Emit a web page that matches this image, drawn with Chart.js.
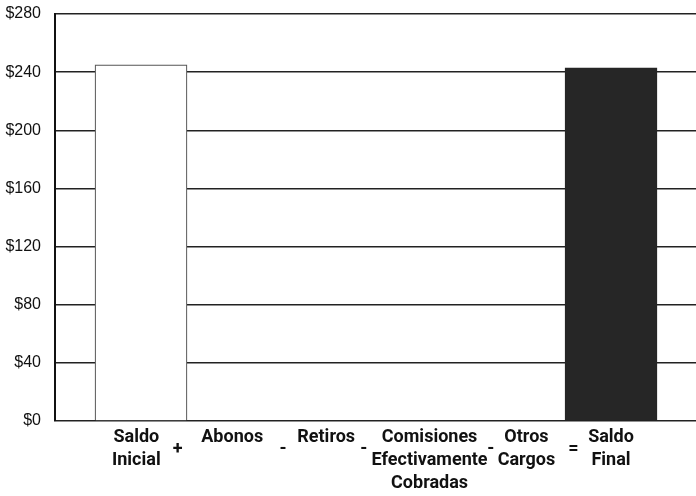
<!DOCTYPE html>
<html>
<head>
<meta charset="utf-8">
<script src="https://cdn.jsdelivr.net/npm/chart.js@4.4.0/dist/chart.umd.min.js"></script>
<style>
    html, body { margin: 0; padding: 0; background: #fff; overflow: hidden; }
    #wrap { width: 696px; height: 496px; position: relative; }
</style>
</head>
<body>
<div id="wrap"><canvas id="saldoChart"></canvas></div>
<script>
// 막대 데이터
const barX = [1, 6];
const barValues = [245, 243];

// x축 라벨 (항목과 연산자)
const xLabels = [
    ['Saldo', 'Inicial'], '+', 'Abonos', '-', 'Retiros', '-',
    ['Comisiones', 'Efectivamente', 'Cobradas'], '-', ['Otros', 'Cargos'], '=', ['Saldo', 'Final']
];
const xLabelAt = [0.95, 1.39, 1.97, 2.51, 2.97, 3.37, 4.07, 4.72, 5.1, 5.6, 6.0];
const isOperator = xLabels.map(l => typeof l === 'string' && l.length === 1);

// y축 눈금
const yTicks = [0, 40, 80, 120, 160, 200, 240, 280];

const labelFont = "Roboto, 'DejaVu Sans Condensed', sans-serif";

new Chart(document.getElementById('saldoChart').getContext('2d'), {
    type: 'bar',
    data: {
        datasets: [{
            data: barX.map((x, i) => ({ x: x, y: barValues[i] })),
            backgroundColor: ['#ffffff', '#262626'],
            borderColor: ['#555555', '#262626'],
            borderWidth: 1.2,
            borderSkipped: 'bottom',
            barThickness: 92
        }]
    },
    options: {
        responsive: true,
        maintainAspectRatio: false,
        animation: false,
        layout: { padding: { top: 14, right: 0, bottom: 0, left: 0 } },
        plugins: { legend: { display: false }, tooltip: { enabled: false } },
        scales: {
            x: {
                type: 'linear',
                offset: false,
                min: 0.085,
                max: 6.904,
                grid: { display: false, drawTicks: false },
                border: { display: false },
                afterBuildTicks: axis => {
                    axis.ticks = xLabelAt.map(v => ({ value: v }));
                },
                afterFit: axis => { axis.height = 75; },
                ticks: {
                    autoSkip: false,
                    maxRotation: 0,
                    padding: 5,
                    color: '#111',
                    callback: (value, index) => xLabels[index],
                    font: ctx => ({
                        family: labelFont,
                        size: 18,
                        weight: 'bold',
                        lineHeight: isOperator[ctx.index] ? 2.56 : 1.28
                    })
                }
            },
            y: {
                min: 0,
                max: 280,
                afterBuildTicks: axis => {
                    axis.ticks = yTicks.map(v => ({ value: v }));
                },
                afterFit: axis => { axis.width = 55; },
                grid: {
                    color: '#222',
                    lineWidth: 1.5,
                    drawTicks: true,
                    tickLength: 14,
                    tickColor: 'rgba(0,0,0,0)'
                },
                border: { color: '#111', width: 2 },
                ticks: {
                    padding: 0,
                    color: '#111',
                    font: { family: "'Liberation Sans', Arial, sans-serif", size: 16 },
                    callback: v => '$' + v
                }
            }
        }
    }
});
</script>
</body>
</html>
